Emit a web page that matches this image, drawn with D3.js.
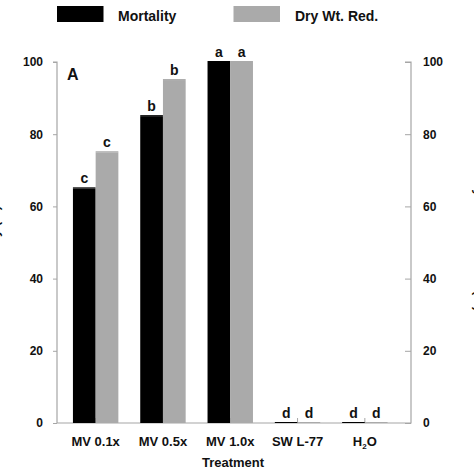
<!DOCTYPE html>
<html><head><meta charset="utf-8">
<script src="https://cdn.jsdelivr.net/npm/d3@7"></script>
<style>html,body{margin:0;padding:0;background:#fff;overflow:hidden}text{font-family:"Liberation Sans",Arial,sans-serif;font-weight:bold;fill:#111}</style>
</head><body><svg id="c" width="474" height="474"></svg>
<script>
const categories = ["MV 0.1x","MV 0.5x","MV 1.0x","SW L-77","H2O"];
const seriesNames = ["Mortality","Dry Wt. Red."];
const mortality = [65, 85, 100, 0, 0];
const dryWtRed = [75, 95, 100, 0, 0];
const mortalityLetters = ["c","b","a","d","d"];
const dryWtLetters = ["c","b","a","d","d"];
const yTicks = [0, 20, 40, 60, 80, 100];
const colors = ["#000000", "#aaaaaa"];

const svg = d3.select("#c");
const yTop = 62, yBot = 423, xL = 57, xR = 411;
const y = d3.scaleLinear().domain([0,100]).range([yBot, yTop]);
const x = d3.scaleBand().domain(categories).range([62, 398.5]).paddingInner(0.325).paddingOuter(0.1625);
const xs = d3.scaleBand().domain(seriesNames).range([0, x.bandwidth()]);
const series = [mortality, dryWtRed];
const letters = [mortalityLetters, dryWtLetters];
const axisColor = "#a6a6a6";

// left axis
const la = svg.append("g").attr("transform", `translate(${xL},0)`)
  .call(d3.axisLeft(y).tickValues(yTicks).tickSize(4).tickPadding(10));
// right axis
const ra = svg.append("g").attr("transform", `translate(${xR},0)`)
  .call(d3.axisRight(y).tickValues(yTicks).tickSize(-6).tickPadding(12));
// bottom axis
const ba = svg.append("g").attr("transform", `translate(0,${yBot})`)
  .call(d3.axisBottom(x).tickSize(-5).tickPadding(17).tickFormat(d => ""));
[la, ra, ba].forEach(g => {
  g.select(".domain").attr("stroke", axisColor).attr("stroke-width", 1.2);
  g.selectAll(".tick line").attr("stroke", axisColor);
  g.selectAll(".tick text").attr("font-size", 12).attr("fill", "#111");
});
la.select(".domain").attr("d", `M-4,${yTop}H0V${yBot}`);
ra.select(".domain").attr("d", `M-6,${yTop}H0V${yBot}H${xL - xR}`);
ba.select(".domain").remove();

// bars
series.forEach((vals, si) => {
  const g = svg.append("g");
  const bx = i => x(categories[i]) + xs(seriesNames[si]);
  g.selectAll("rect").data(vals).join("rect")
    .attr("x", (d,i) => bx(i))
    .attr("y", d => y(d))
    .attr("width", xs.bandwidth())
    .attr("height", d => yBot - y(d))
    .attr("fill", colors[si]);
  // top edge of each bar (visible for zero-height bars)
  g.selectAll("line").data(vals).join("line")
    .attr("x1", (d,i) => bx(i)).attr("x2", (d,i) => bx(i) + xs.bandwidth())
    .attr("y1", d => y(d) - 0.5).attr("y2", d => y(d) - 0.5)
    .attr("stroke", colors[si]).attr("stroke-width", 1);
  svg.append("g").selectAll("text").data(vals).join("text")
    .attr("x", (d,i) => bx(i) + xs.bandwidth()/2)
    .attr("y", d => y(d) - 5)
    .attr("text-anchor", "middle").attr("font-size", 14)
    .text((d,i) => letters[si][i]);
});

// x labels
const xl = svg.append("g").selectAll("text").data(categories).join("text")
  .attr("x", d => x(d) + x.bandwidth()/2)
  .attr("y", 446).attr("text-anchor", "middle").attr("font-size", 13);
xl.each(function(d){
  const t = d3.select(this);
  if (d === "H2O") {
    t.append("tspan").text("H");
    t.append("tspan").attr("font-size", 8).attr("dy", 3).text("2");
    t.append("tspan").attr("dy", -3).text("O");
  } else t.text(d);
});
svg.append("text").attr("x", 233).attr("y", 467).attr("text-anchor", "middle").attr("font-size", 13).text("Treatment");

// panel letter
svg.append("text").attr("x", 67).attr("y", 80).attr("font-size", 16).text("A");

// axis titles (mostly clipped, as in the reference)
svg.append("text").attr("transform", "translate(-1,245) rotate(-90)").attr("text-anchor", "middle").attr("font-size", 13).text("Mortality (%)");
svg.append("text").attr("transform", "translate(475,243) rotate(90)").attr("text-anchor", "middle").attr("font-size", 13).text("Dry Wt. Reduction (%)");

// legend
const leg = [{x: 57, tx: 118}, {x: 233.5, tx: 295}];
seriesNames.forEach((s, i) => {
  svg.append("rect").attr("x", leg[i].x).attr("y", 6).attr("width", 46.5).attr("height", 16).attr("fill", colors[i]);
  svg.append("text").attr("x", leg[i].tx).attr("y", 20.5).attr("font-size", 14).text(s);
});
</script></body></html>
